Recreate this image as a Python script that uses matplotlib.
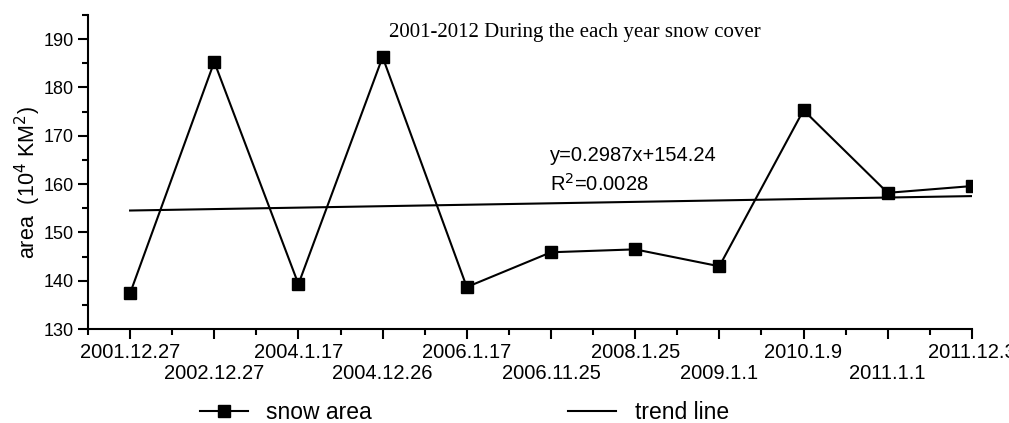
import matplotlib.pyplot as plt
from matplotlib.ticker import MultipleLocator

plt.rcParams['font.family'] = ['Liberation Sans', 'DejaVu Sans']

dates = ['2001.12.27', '2002.12.27', '2004.1.17', '2004.12.26', '2006.1.17',
         '2006.11.25', '2008.1.25', '2009.1.1', '2010.1.9', '2011.1.1', '2011.12.3']
snow_area = [137.4, 185.3, 139.3, 186.3, 138.7, 145.9, 146.5, 143.0, 175.3, 158.2, 159.6]
slope, intercept = 0.2987, 154.24

x = list(range(len(dates)))
trend = [slope * (i + 1) + intercept for i in x]

fig = plt.figure(figsize=(10.09, 4.23), dpi=100)
ax = fig.add_axes([0.0872, 0.222, 0.876, 0.7425])

h1, = ax.plot(x, snow_area, color='black', lw=1.5, marker='s', ms=9, label='snow area')
h2, = ax.plot(x, trend, color='black', lw=1.5, label='trend line')

ax.set_xlim(-0.5, 10)
ax.set_ylim(130, 195)
for s in ['top', 'right']:
    ax.spines[s].set_visible(False)
for s in ['left', 'bottom']:
    ax.spines[s].set_linewidth(1.5)

ax.set_xticks(x)
ax.set_xticklabels([d if i % 2 == 0 else '' for i, d in enumerate(dates)], fontsize=14.5)
# every second date goes on a lower row
for i, d in enumerate(dates):
    if i % 2 == 1:
        ax.annotate(d, xy=(i, 0), xycoords=ax.get_xaxis_transform(),
                    xytext=(0, -25), textcoords='offset points',
                    ha='center', va='top', fontsize=14.5)
ax.xaxis.set_minor_locator(MultipleLocator(0.5))
ax.yaxis.set_minor_locator(MultipleLocator(5))
ax.set_yticks(range(130, 191, 10))
ax.tick_params(axis='both', which='major', direction='out', length=7, width=1.5)
ax.tick_params(axis='y', labelsize=13)
ax.tick_params(axis='both', which='minor', direction='out', length=4, width=1.5)
ax.tick_params(axis='x', pad=3)

ax.set_ylabel('area  (10$^4$ KM$^2$)', fontsize=15.5)
ax.yaxis.set_label_coords(-0.051, 0.465)

ax.text(0.551, 0.945, '2001-2012 During the each year snow cover', transform=ax.transAxes,
        ha='center', va='center', fontsize=15, family='Liberation Serif')
ax.text(4.99, 166.0, 'y=0.2987x+154.24', fontsize=14.5, va='center')
ax.text(4.99, 160.0, 'R$^2$=0.0028', fontsize=14.5, va='center')

for h, x0 in [(h1, 0.198), (h2, 0.563)]:
    fig.legend(handles=[h], loc='center left', bbox_to_anchor=(x0, 0.024), frameon=False,
               fontsize=16.5, handlelength=2.1, handletextpad=0.8,
               borderpad=0, borderaxespad=0)

fig.savefig('out.png', dpi=100)
